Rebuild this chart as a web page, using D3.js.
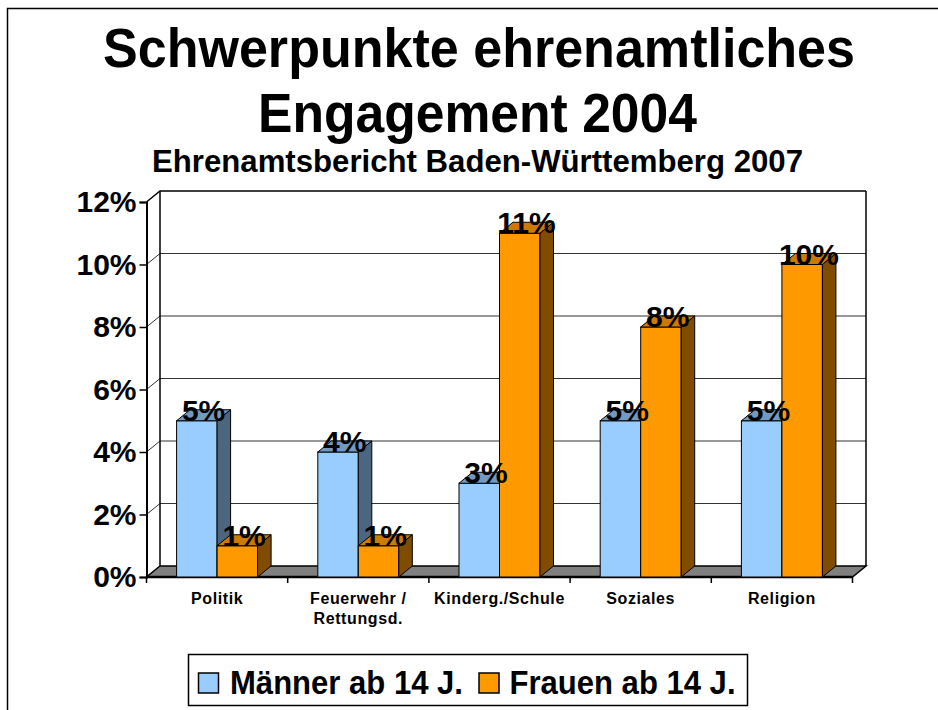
<!DOCTYPE html>
<html>
<head>
<meta charset="utf-8">
<script src="https://cdn.jsdelivr.net/npm/d3@7"></script>
<style>
  body { margin: 0; background: #fff; }
  svg { display: block; font-family: "Liberation Sans", Arial, sans-serif; }
</style>
</head>
<body>
<div id="target"></div>
<script>
// data
var categories = ['Politik', 'Feuerwehr /\nRettungsd.', 'Kinderg./Schule', 'Soziales', 'Religion'];
var seriesNames = ['Männer ab 14 J.', 'Frauen ab 14 J.'];
var maenner = [0.05, 0.04, 0.03, 0.05, 0.05];
var frauen = [0.01, 0.01, 0.11, 0.08, 0.10];
var yTicks = [0, 0.02, 0.04, 0.06, 0.08, 0.10, 0.12];

var width = 938, height = 710;
var dx = 13.5, dy = -11;   // 3d depth offset
var front = {left: 146.5, right: 852.5, bottom: 577, top: 202};

var colors = [
  {front: '#99CCFF', top: '#7399C0', side: '#4D6680'},
  {front: '#FF9900', top: '#CC7A00', side: '#804D00'}
];

var svg = d3.select('#target').append('svg')
  .attr('width', width)
  .attr('height', height);

// frame (only left + top edges visible)
svg.append('path')
  .attr('d', 'M7.5,710 V8.5 H938')
  .attr('fill', 'none')
  .attr('stroke', '#000')
  .attr('stroke-width', 1.5);

// titles
svg.append('text')
  .attr('x', 479).attr('y', 67)
  .attr('text-anchor', 'middle')
  .attr('font-size', 56).attr('font-weight', 'bold')
  .attr('textLength', 752).attr('lengthAdjust', 'spacingAndGlyphs')
  .text('Schwerpunkte ehrenamtliches');
svg.append('text')
  .attr('x', 477.5).attr('y', 132)
  .attr('text-anchor', 'middle')
  .attr('font-size', 56).attr('font-weight', 'bold')
  .attr('textLength', 439).attr('lengthAdjust', 'spacingAndGlyphs')
  .text('Engagement 2004');
svg.append('text')
  .attr('x', 477.5).attr('y', 172)
  .attr('text-anchor', 'middle')
  .attr('font-size', 32).attr('font-weight', 'bold')
  .attr('textLength', 651).attr('lengthAdjust', 'spacingAndGlyphs')
  .text('Ehrenamtsbericht Baden-Württemberg 2007');

// scales
var x0 = d3.scaleBand()
  .domain(categories)
  .range([front.left, front.right])
  .paddingInner(0.4263)
  .paddingOuter(0.2131);
var x1 = d3.scaleBand()
  .domain(seriesNames)
  .range([0, x0.bandwidth()]);
var y = d3.scaleLinear()
  .domain([0, 0.12])
  .range([front.bottom, front.top]);

// back wall + gridlines
var wall = svg.append('g');
yTicks.forEach(function (t) {
  if (t === 0) return;
  wall.append('path')
    .attr('d', 'M' + front.left + ',' + y(t) +
      ' L' + (front.left + dx) + ',' + (y(t) + dy) +
      ' H' + (front.right + dx))
    .attr('fill', 'none')
    .attr('stroke', t === 0.12 ? '#000' : '#333')
    .attr('stroke-width', t === 0.12 ? 1.5 : 1);
});
wall.append('line')
  .attr('x1', front.left + dx).attr('x2', front.left + dx)
  .attr('y1', y(0.12) + dy).attr('y2', y(0) + dy)
  .attr('stroke', '#000').attr('stroke-width', 1.5);
wall.append('line')
  .attr('x1', front.right + dx).attr('x2', front.right + dx)
  .attr('y1', y(0.12) + dy).attr('y2', y(0) + dy)
  .attr('stroke', '#000').attr('stroke-width', 1.5);

// floor
svg.append('polygon')
  .attr('points', [
    [front.left, y(0)], [front.right, y(0)],
    [front.right + dx, y(0) + dy], [front.left + dx, y(0) + dy]
  ].join(' '))
  .attr('fill', '#808080')
  .attr('stroke', '#000')
  .attr('stroke-width', 1.5);

// y axis
var yAxis = svg.append('g')
  .attr('transform', 'translate(' + front.left + ',0)')
  .call(d3.axisLeft(y)
    .tickValues(yTicks)
    .tickFormat(d3.format('.0%'))
    .tickSize(7)
    .tickPadding(3));
yAxis.select('.domain').attr('stroke', '#000').attr('stroke-width', 2);
yAxis.selectAll('.tick line').attr('stroke', '#000').attr('stroke-width', 1.5);
yAxis.selectAll('.tick text')
  .attr('font-size', 30)
  .attr('font-weight', 'bold')
  .attr('font-family', '"Liberation Sans", Arial, sans-serif')
  .attr('fill', '#000');

// x axis line and boundary ticks
svg.append('line')
  .attr('x1', front.left).attr('x2', front.right)
  .attr('y1', y(0)).attr('y2', y(0))
  .attr('stroke', '#000').attr('stroke-width', 2.5);
var bounds = categories.map(function (c) {
  return x0(c) - x0.step() * x0.paddingInner() / 2;
});
bounds.push(front.right);
svg.selectAll('.xtick')
  .data(bounds)
  .enter().append('line')
  .attr('class', 'xtick')
  .attr('x1', function (d) { return d; })
  .attr('x2', function (d) { return d; })
  .attr('y1', y(0))
  .attr('y2', y(0) + 6)
  .attr('stroke', '#000').attr('stroke-width', 1.5);

// category labels
var xAxis = svg.append('g')
  .attr('transform', 'translate(0,' + y(0) + ')')
  .call(d3.axisBottom(x0).tickSize(0).tickPadding(0));
xAxis.select('.domain').remove();
xAxis.selectAll('.tick text').each(function (d) {
  var t = d3.select(this);
  var lines = d.split('\n');
  t.text(null)
    .attr('y', 0)
    .attr('dy', null)
    .attr('font-size', 16)
    .attr('font-weight', 'bold')
    .attr('letter-spacing', 0.6)
    .attr('font-family', '"Liberation Sans", Arial, sans-serif')
    .attr('fill', '#000');
  lines.forEach(function (l, i) {
    t.append('tspan')
      .attr('x', 0)
      .attr('y', 27 + i * 20)
      .text(l);
  });
});

// bars
var series = [maenner, frauen];
var barData = [];
categories.forEach(function (c, i) {
  series.forEach(function (s, j) {
    barData.push({cat: c, s: j, value: s[i]});
  });
});

var bars = svg.selectAll('.bar')
  .data(barData)
  .enter().append('g')
  .attr('class', 'bar');

bars.each(function (d) {
  var g = d3.select(this);
  var bx = x0(d.cat) + x1(seriesNames[d.s]);
  var bw = x1.bandwidth();
  var yv = y(d.value);
  var y0 = y(0);
  g.append('rect')
    .attr('x', bx).attr('y', yv)
    .attr('width', bw).attr('height', y0 - yv)
    .attr('fill', colors[d.s].front)
    .attr('stroke', '#000').attr('stroke-width', 1);
  g.append('polygon')
    .attr('points', [[bx, yv], [bx + dx, yv + dy], [bx + bw + dx, yv + dy], [bx + bw, yv]].join(' '))
    .attr('fill', colors[d.s].top)
    .attr('stroke', '#000').attr('stroke-width', 1);
  g.append('polygon')
    .attr('points', [[bx + bw, yv], [bx + bw + dx, yv + dy], [bx + bw + dx, y0 + dy], [bx + bw, y0]].join(' '))
    .attr('fill', colors[d.s].side)
    .attr('stroke', '#000').attr('stroke-width', 1);
});

// value labels
svg.selectAll('.vlabel')
  .data(barData)
  .enter().append('text')
  .attr('class', 'vlabel')
  .attr('x', function (d) {
    return x0(d.cat) + x1(seriesNames[d.s]) + x1.bandwidth() / 2 + dx / 2;
  })
  .attr('y', function (d) { return y(d.value); })
  .attr('text-anchor', 'middle')
  .attr('font-size', 30)
  .attr('font-weight', 'bold')
  .attr('fill', '#000')
  .text(function (d) { return d3.format('.0%')(d.value); });

// legend
var legend = svg.append('g');
legend.append('rect')
  .attr('x', 188.5).attr('y', 654.5)
  .attr('width', 559).attr('height', 51)
  .attr('fill', '#fff')
  .attr('stroke', '#000').attr('stroke-width', 1.5);
var legendItems = [
  {x: 198.5, tx: 230, tw: 233},
  {x: 479, tx: 509.5, tw: 226}
];
legendItems.forEach(function (it, i) {
  legend.append('rect')
    .attr('x', it.x).attr('y', 673)
    .attr('width', 20).attr('height', 20)
    .attr('fill', colors[i].front)
    .attr('stroke', '#000').attr('stroke-width', 1.5);
  legend.append('text')
    .attr('x', it.tx).attr('y', 694)
    .attr('font-size', 34)
    .attr('font-weight', 'bold')
    .attr('textLength', it.tw).attr('lengthAdjust', 'spacingAndGlyphs')
    .text(seriesNames[i]);
});
</script>
</body>
</html>
